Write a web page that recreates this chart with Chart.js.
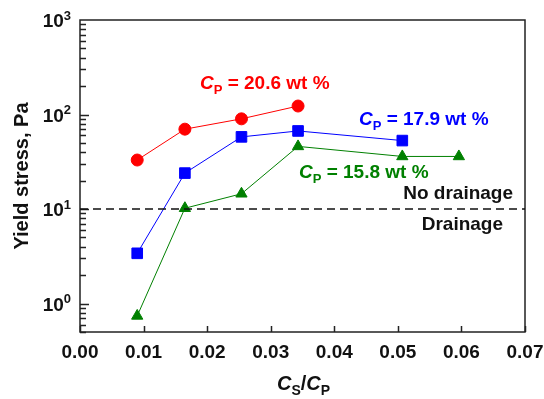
<!DOCTYPE html>
<html>
<head>
<meta charset="utf-8">
<script src="https://cdn.jsdelivr.net/npm/chart.js@4/dist/chart.umd.min.js"></script>
<style>html,body{margin:0;padding:0;background:#fff}</style>
</head>
<body>
<canvas id="yield-chart" width="544" height="399"></canvas>
<script>
// Cs/Cp ratio and yield stress (Pa) for each polymer concentration
const xRed = [0.009, 0.0165, 0.0254, 0.0343];
const yRed = [33, 70, 90, 123];
const xBlue = [0.009, 0.0165, 0.0254, 0.0343, 0.0507];
const yBlue = [3.4, 24, 58, 67, 53];
const xGreen = [0.009, 0.0165, 0.0254, 0.0343, 0.0507, 0.0596];
const yGreen = [0.74, 10.2, 14.5, 46, 36, 36];
const drainageLimit = 10;

const xTicks = [0.00, 0.01, 0.02, 0.03, 0.04, 0.05, 0.06, 0.07];
const yTicks = [1, 10, 100, 1000];
const yTickExp = ['0', '1', '2', '3'];

const FONT = '"Liberation Sans", Arial, sans-serif';

function toPoints(xs, ys) {
    return xs.map((x, i) => ({ x: x, y: ys[i] }));
}

// draws a run of text pieces: {t, it, sub, sup}
function drawRich(ctx, parts, x, y, size, color, align) {
    const small = Math.round(size * 0.68);
    const fontOf = p => 'bold ' + (p.it ? 'italic ' : '') + ((p.sub || p.sup) ? small : size) + 'px ' + FONT;
    let total = 0;
    parts.forEach(p => { ctx.font = fontOf(p); total += ctx.measureText(p.t).width; });
    let cx = align === 'right' ? x - total : align === 'center' ? x - total / 2 : x;
    ctx.fillStyle = color;
    ctx.textAlign = 'left';
    ctx.textBaseline = 'alphabetic';
    parts.forEach(p => {
        ctx.font = fontOf(p);
        let dy = 0;
        if (p.sub) dy = size * 0.25;
        if (p.sup) dy = -size * 0.38;
        ctx.fillText(p.t, cx, y + dy);
        cx += ctx.measureText(p.t).width;
    });
}

const axesPlugin = {
    id: 'axesPlugin',
    beforeDatasetsDraw(chart) {
        const ctx = chart.ctx;
        const a = chart.chartArea;
        const xs = chart.scales.x, ys = chart.scales.y;
        ctx.save();
        ctx.strokeStyle = '#222';
        ctx.lineWidth = 1.5;
        ctx.strokeRect(a.left, a.top, a.right - a.left, a.bottom - a.top);
        ctx.beginPath();
        xTicks.forEach(v => {
            const px = Math.round(xs.getPixelForValue(v)) + 0.5;
            ctx.moveTo(px, a.bottom);
            ctx.lineTo(px, a.bottom - 6);
        });
        for (let e = -1; e <= 2; e++) {
            for (let m = 1; m <= 9; m++) {
                const v = m * Math.pow(10, e);
                if (v < ys.min || v > ys.max) continue;
                const py = Math.round(ys.getPixelForValue(v)) + 0.5;
                ctx.moveTo(a.left, py);
                ctx.lineTo(a.left + (m === 1 ? 9 : 6), py);
            }
        }
        ctx.stroke();
        ctx.restore();
    },
    afterDraw(chart) {
        const ctx = chart.ctx;
        const a = chart.chartArea;
        const xs = chart.scales.x, ys = chart.scales.y;
        ctx.save();
        // x tick labels
        ctx.font = 'bold 19px ' + FONT;
        ctx.fillStyle = '#111';
        ctx.textAlign = 'center';
        ctx.textBaseline = 'middle';
        xTicks.forEach(v => {
            ctx.fillText(v.toFixed(2), xs.getPixelForValue(v), a.bottom + 21);
        });
        // y tick labels
        yTicks.forEach((v, i) => {
            const py = ys.getPixelForValue(v);
            drawRich(ctx, [{ t: '10' }, { t: yTickExp[i], sup: true }], a.left - 9, py + 7, 19, '#111', 'right');
        });
        // axis titles
        drawRich(ctx, [{ t: 'C', it: true }, { t: 'S', sub: true }, { t: '/' }, { t: 'C', it: true }, { t: 'P', sub: true }],
            (a.left + a.right) / 2 + 1, 390, 20, '#111', 'center');
        ctx.save();
        ctx.translate(28, (a.top + a.bottom) / 2);
        ctx.rotate(-Math.PI / 2);
        drawRich(ctx, [{ t: 'Yield stress, Pa' }], 0, 0, 20, '#111', 'center');
        ctx.restore();
        // annotations
        drawRich(ctx, [{ t: 'C', it: true }, { t: 'P', sub: true }, { t: ' = 20.6 wt %' }], 200, 89, 19, '#ff0000', 'left');
        drawRich(ctx, [{ t: 'C', it: true }, { t: 'P', sub: true }, { t: ' = 17.9 wt %' }], 359, 125, 19, '#0000ff', 'left');
        drawRich(ctx, [{ t: 'C', it: true }, { t: 'P', sub: true }, { t: ' = 15.8 wt %' }], 299, 178, 19, '#008000', 'left');
        drawRich(ctx, [{ t: 'No drainage' }], 513, 199, 19, '#111', 'right');
        drawRich(ctx, [{ t: 'Drainage' }], 503, 230, 19, '#111', 'right');
        ctx.restore();
    }
};

const ctx = document.getElementById('yield-chart').getContext('2d');
const myChart = new Chart(ctx, {
    type: 'scatter',
    data: {
        datasets: [{
            data: [{ x: 0, y: drainageLimit }, { x: 0.07, y: drainageLimit }],
            showLine: true,
            borderColor: '#111',
            borderWidth: 1.5,
            borderDash: [8, 5],
            pointRadius: 0
        }, {
            data: toPoints(xRed, yRed),
            showLine: true,
            borderColor: '#ff0000',
            backgroundColor: '#ff0000',
            borderWidth: 1,
            pointStyle: 'circle',
            pointRadius: 6
        }, {
            data: toPoints(xBlue, yBlue),
            showLine: true,
            borderColor: '#0000ff',
            backgroundColor: '#0000ff',
            borderWidth: 1,
            pointStyle: 'rect',
            pointRadius: 7.5
        }, {
            data: toPoints(xGreen, yGreen),
            showLine: true,
            borderColor: '#008000',
            backgroundColor: '#008000',
            borderWidth: 1,
            pointStyle: 'triangle',
            pointRadius: 6.5
        }]
    },
    options: {
        responsive: false,
        animation: false,
        layout: { padding: { left: 80, top: 20, right: 19, bottom: 67 } },
        plugins: { legend: { display: false }, tooltip: { enabled: false } },
        scales: {
            x: { type: 'linear', display: false, min: 0, max: 0.07 },
            y: { type: 'logarithmic', display: false, min: 0.5, max: 1000 }
        }
    },
    plugins: [axesPlugin]
});
</script>
</body>
</html>
